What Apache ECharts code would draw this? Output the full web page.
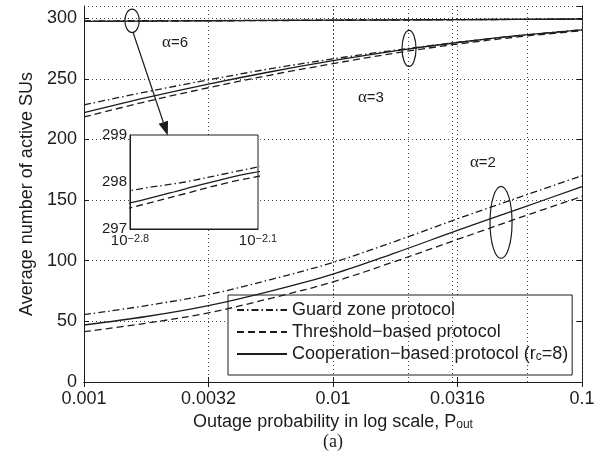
<!DOCTYPE html>
<html><head><meta charset="utf-8">
<script src="https://cdn.jsdelivr.net/npm/echarts@6/dist/echarts.min.js"></script>
<style>html,body{margin:0;padding:0;background:#fff}#c{width:610px;height:467px}</style>
</head><body><div id="c"></div>
<script>
// ---- data ----
const pout = [0.001, 0.00178, 0.00316, 0.00562, 0.01, 0.0178, 0.0316, 0.0562, 0.1];
const guardA2 = [55.5, 63, 72, 84.5, 98.5, 116, 134.5, 152.5, 170];
const thrA2   = [41.5, 48.5, 57, 69, 82.5, 99.5, 117.5, 135.5, 153];
const coopA2  = [47, 54, 63, 75, 89, 106.5, 125, 143, 161];
const guardA3 = [228.5, 239.2, 249.1, 258.3, 266.4, 273.6, 280.0, 285.7, 290.4];
const thrA3   = [218.5, 231.2, 242.6, 253.1, 262.5, 271.2, 278.6, 284.7, 289.6];
const coopA3  = [222, 234.4, 245.6, 255.8, 264.9, 273.0, 279.9, 285.7, 290.4];
const guardA6 = [297.65, 297.85, 298.0, 298.2, 298.4, 298.6, 298.8, 298.95, 299.15];
const thrA6   = [297.25, 297.5, 297.75, 298.0, 298.2, 298.45, 298.7, 298.95, 299.15];
const coopA6  = [297.4, 297.6, 297.85, 298.1, 298.3, 298.55, 298.75, 299.0, 299.2];

const xTickVals = [0.001, 0.0032, 0.01, 0.0316, 0.1];
const xTickLabels = ['0.001', '0.0032', '0.01', '0.0316', '0.1'];
const xGridExtra = [0.002, 0.003, 0.0063, 0.0095, 0.02, 0.03, 0.063, 0.095];
const insetXMin = Math.pow(10, -2.8), insetXMax = Math.pow(10, -2.1);
const insetXLabels = ['−2.8', '−2.1'];
const names = ['Guard zone protocol', 'Threshold-based protocol', 'Cooperation-based protocol (rc=8)'];
const legendText = ['Guard zone protocol', 'Threshold−based protocol', 'Cooperation−based protocol (r{sub|c}=8)'];

// annotation anchors (data coords)
const ell6 = [0.00156, 297.8], ell3 = [0.0202, 275], ell2 = [0.0473, 131.6];
const txt6 = [0.00232, 279.7], txt3 = [0.0142, 234.4], txt2 = [0.04, 181];
const arrowTip = [0.00217, 203.2];

const FONT = '"Liberation Sans", Arial, Helvetica, sans-serif';
const INK = '#1c1c1c';
const styles = [
  {type: [7, 3, 1.5, 3], width: 1.3},
  {type: [7, 4], width: 1.3},
  {type: 'solid', width: 1.3}
];
const pairs = arr => arr.map((v, i) => [pout[i], v]);

function mk(name, arr, k, xi, yi, z) {
  return {
    type: 'line', name, data: pairs(arr), xAxisIndex: xi, yAxisIndex: yi,
    symbol: 'none', smooth: 0.35, clip: true, z,
    lineStyle: {color: INK, width: styles[k].width, type: styles[k].type},
    itemStyle: {color: INK}, animation: false, silent: true
  };
}

const series = [];
[[guardA2, thrA2, coopA2], [guardA3, thrA3, coopA3], [guardA6, thrA6, coopA6]].forEach(g => {
  g.forEach((arr, k) => series.push(mk(names[k], arr, k, 0, 0, 5)));
});
[guardA6, thrA6, coopA6].forEach((arr, k) => series.push(mk(names[k], arr, k, 2, 2, 3)));
// extra dotted vertical grid lines
series.push({
  type: 'line', data: [], xAxisIndex: 0, yAxisIndex: 0, z: 0, silent: true, animation: false,
  markLine: {
    silent: true, symbol: ['none', 'none'], label: {show: false}, animation: false,
    lineStyle: {type: [1, 3], color: '#444', width: 1},
    data: xGridExtra.map(v => ({xAxis: v}))
  }
});

const dotted = {show: true, lineStyle: {type: [1, 3], color: '#444', width: 1}};
const xFmt = v => {
  let s = '';
  xTickVals.forEach((t, i) => { if (Math.abs(Math.log10(v) - Math.log10(t)) < 0.05) s = xTickLabels[i]; });
  return s;
};

const chart = echarts.init(document.getElementById('c'), null, {renderer: 'canvas'});
chart.setOption({
  animation: false,
  backgroundColor: '#fff',
  textStyle: {fontFamily: FONT, color: INK},
  grid: [
    {left: 84, right: 28, top: 6, bottom: 85, outerBoundsMode: 'none', containLabel: false},
    {left: 130, top: 135, width: 128, height: 94, show: true, backgroundColor: '#fff',
     borderColor: INK, borderWidth: 1, z: 1, outerBoundsMode: 'none', containLabel: false}
  ],
  xAxis: [
    {type: 'log', logBase: Math.sqrt(10), min: 0.001, max: 0.1, gridIndex: 0,
     axisLine: {show: true, lineStyle: {color: INK, width: 1}},
     axisTick: {show: true, inside: true, length: 5, lineStyle: {color: INK}},
     minorTick: {show: false},
     axisLabel: {fontSize: 18, color: INK, fontFamily: FONT, margin: 8, formatter: xFmt},
     splitLine: dotted,
     name: 'Outage probability in log scale, P{sub|out}', nameLocation: 'middle', nameGap: 31,
     nameTextStyle: {fontSize: 18, color: INK, fontFamily: FONT, lineHeight: 18,
       rich: {sub: {fontSize: 12, lineHeight: 6, verticalAlign: 'bottom', fontFamily: FONT, color: INK}}}},
    {type: 'log', logBase: Math.sqrt(10), min: 0.001, max: 0.1, gridIndex: 0, position: 'top',
     axisLine: {show: true, lineStyle: {color: INK, width: 1}},
     axisTick: {show: true, inside: true, length: 5, lineStyle: {color: INK}},
     axisLabel: {show: false}, splitLine: {show: false}},
    {type: 'log', min: insetXMin, max: insetXMax, gridIndex: 1, z: 3,
     axisLine: {show: true, lineStyle: {color: INK, width: 1}},
     axisTick: {show: false},
     axisLabel: {fontSize: 15, color: INK, fontFamily: FONT, margin: 4, showMinLabel: true, showMaxLabel: true,
       formatter: v => {
         const e = Math.log10(v);
         if (Math.abs(e + 2.8) < 0.02) return '10{sup|' + insetXLabels[0] + '}';
         if (Math.abs(e + 2.1) < 0.02) return '10{sup|' + insetXLabels[1] + '}';
         return '';
       },
       rich: {sup: {fontSize: 11, lineHeight: 6, verticalAlign: 'top', fontFamily: FONT, color: INK}}},
     splitLine: {show: false}}
  ],
  yAxis: [
    {type: 'value', min: 0, max: 310, interval: 50, gridIndex: 0,
     axisLine: {show: true, lineStyle: {color: INK, width: 1}},
     axisTick: {show: true, inside: true, length: 5, lineStyle: {color: INK}},
     axisLabel: {fontSize: 18, color: INK, fontFamily: FONT, margin: 7, showMaxLabel: false},
     splitLine: dotted,
     name: 'Average number of active SUs', nameLocation: 'middle', nameGap: 46,
     nameTextStyle: {fontSize: 18, color: INK, fontFamily: FONT}},
    {type: 'value', min: 0, max: 310, interval: 50, gridIndex: 0, position: 'right',
     axisLine: {show: true, lineStyle: {color: INK, width: 1}},
     axisTick: {show: true, inside: true, length: 5, lineStyle: {color: INK}},
     axisLabel: {show: false}, splitLine: {show: false}},
    {type: 'value', min: 297, max: 299, interval: 1, gridIndex: 1, z: 3,
     axisLine: {show: true, lineStyle: {color: INK, width: 1}},
     axisTick: {show: false},
     axisLabel: {fontSize: 15, color: INK, fontFamily: FONT, margin: 3},
     splitLine: {show: false}}
  ],
  legend: {
    data: names, orient: 'vertical', left: 228, top: 295, z: 4,
    itemWidth: 50, itemHeight: 14, itemGap: 4,
    padding: [6, 4, 12, 8],
    backgroundColor: '#fff', borderColor: INK, borderWidth: 1,
    selectedMode: false,
    itemStyle: {color: 'rgba(0,0,0,0)', borderColor: 'rgba(0,0,0,0)', borderWidth: 0, opacity: 0},
    textStyle: {fontSize: 18, color: INK, fontFamily: FONT, lineHeight: 18,
      rich: {sub: {fontSize: 12, lineHeight: 6, verticalAlign: 'bottom', fontFamily: FONT, color: INK}}},
    formatter: n => legendText[names.indexOf(n)]
  },
  series
});

// annotations placed through the chart's own coordinate conversion
const P = d => chart.convertToPixel({xAxisIndex: 0, yAxisIndex: 0}, d);
const e6 = P(ell6), e3 = P(ell3), e2 = P(ell2);
const t6 = P(txt6), t3 = P(txt3), t2 = P(txt2);
const tip = P(arrowTip);
const ellStyle = {fill: 'none', stroke: INK, lineWidth: 1.2};
const start = [e6[0] + 1, e6[1] + 11.7];
const ang = Math.atan2(tip[1] - start[1], tip[0] - start[0]);
const hl = 14, hw = 5;
const base = [tip[0] - hl * Math.cos(ang), tip[1] - hl * Math.sin(ang)];
const perp = [-Math.sin(ang), Math.cos(ang)];
const alphaRich = {a: {fontFamily: '"Liberation Serif", "DejaVu Serif", serif', fontSize: 17, fill: INK, color: INK},
                   b: {fontFamily: FONT, fontSize: 15, fill: INK, color: INK}};
const aText = (p, s) => ({type: 'text', x: p[0], y: p[1], z: 10, silent: true,
  style: {text: '{a|α}{b|=' + s + '}', rich: alphaRich, textAlign: 'center', textVerticalAlign: 'middle', fill: INK}});
const midX = P([0.01, 0])[0];
chart.setOption({
  graphic: [
    {type: 'ellipse', z: 10, silent: true, shape: {cx: e6[0], cy: e6[1], rx: 7.2, ry: 11.7}, style: ellStyle},
    {type: 'ellipse', z: 10, silent: true, shape: {cx: e3[0], cy: e3[1], rx: 7, ry: 18}, style: ellStyle},
    {type: 'ellipse', z: 10, silent: true, shape: {cx: e2[0], cy: e2[1], rx: 11, ry: 36}, style: ellStyle},
    {type: 'line', z: 10, silent: true, shape: {x1: start[0], y1: start[1], x2: base[0], y2: base[1]},
     style: {stroke: INK, lineWidth: 1.2}},
    {type: 'polygon', z: 10, silent: true, shape: {points: [tip,
       [base[0] + hw * perp[0], base[1] + hw * perp[1]],
       [base[0] - hw * perp[0], base[1] - hw * perp[1]]]}, style: {fill: INK}},
    aText(t6, '6'), aText(t3, '3'), aText(t2, '2'),
    {type: 'text', x: midX, y: 442, z: 10, silent: true,
     style: {text: '(a)', font: '18px "Liberation Serif", "Times New Roman", serif', fill: INK,
             textAlign: 'center', textVerticalAlign: 'middle'}}
  ]
});
</script></body></html>
